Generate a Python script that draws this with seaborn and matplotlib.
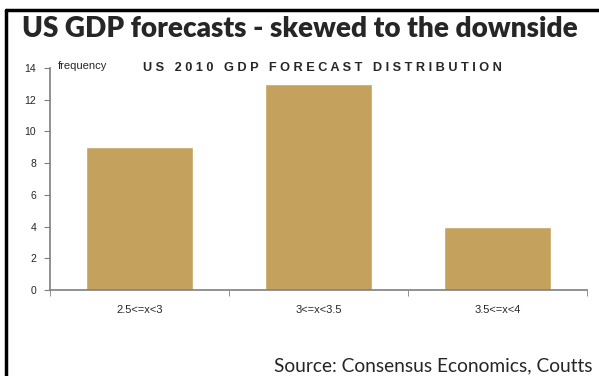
import matplotlib
matplotlib.use("Agg")
import matplotlib.pyplot as plt
import seaborn as sns
import pandas as pd

# data
categories = ["2.5<=x<3", "3<=x<3.5", "3.5<=x<4"]
frequency = [9, 13, 4]
y_ticks = [0, 2, 4, 6, 8, 10, 12, 14]

df = pd.DataFrame({"range": categories, "frequency": frequency})

sns.set_style("white")
plt.rcParams["font.family"] = ["Liberation Sans", "DejaVu Sans"]

fig = plt.figure(figsize=(5.99, 3.76), dpi=100)
ax = fig.add_axes([0.0835, 0.229, 0.897, 0.590])

sns.barplot(data=df, x="range", y="frequency", color="#C4A15D", saturation=1,
            width=0.6, ax=ax)

ax.set_xlim(-0.5, 2.5)
ax.set_ylim(0, 14)
ax.set_yticks(y_ticks)
ax.set_yticklabels([str(t) for t in y_ticks], fontsize=7.5)
ax.set_xticks(range(len(categories)))
ax.set_xticklabels(categories, fontsize=8)
ax.tick_params(axis="x", length=0, pad=11)
ax.set_xticks([-0.5, 0.5, 1.5, 2.5], minor=True)
ax.tick_params(axis="x", which="minor", direction="out", length=4, color="#7f7f7f", bottom=True)
ax.tick_params(axis="y", direction="out", length=4, color="#7f7f7f", left=True, pad=6)
ax.set_xlabel("")
ax.set_ylabel("")
sns.despine(ax=ax)
for s in ["left", "bottom"]:
    ax.spines[s].set_color("#7f7f7f")
    ax.spines[s].set_linewidth(1.2)

# inner labels
fig.text(58 / 599, 1 - 66 / 376, "frequency", fontsize=8, va="center")
sub = "US 2010 GDP FORECAST DISTRIBUTION"
sub_spaced = "   ".join(" ".join(w) for w in sub.split())
fig.text(143 / 599, 1 - 68 / 376, sub_spaced, fontsize=9.2, fontweight="bold", va="center")

# headline and source
fig.text(22 / 599, 1 - 29 / 376, "US GDP forecasts - skewed to the downside",
         fontsize=20.1, fontweight="heavy", family=["Lato", "DejaVu Sans"], va="center")
fig.text(274 / 599, 1 - 366 / 376, "Source: Consensus Economics, Coutts",
         fontsize=13.8, family=["Lato", "DejaVu Sans"], va="center")

# frame lines
fig.add_artist(plt.Line2D([6 / 599, 1], [1 - 10 / 376] * 2, color="black", lw=2.5,
                          transform=fig.transFigure))
fig.add_artist(plt.Line2D([6 / 599] * 2, [0, 1 - 10 / 376], color="black", lw=2.5,
                          transform=fig.transFigure))

fig.savefig("out.png", dpi=100)
